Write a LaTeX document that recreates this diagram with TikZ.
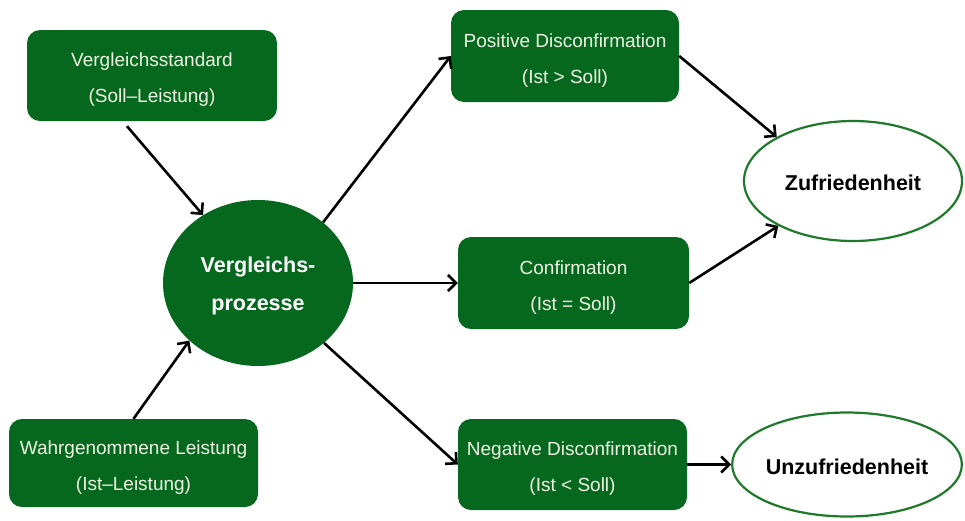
\documentclass[tikz,border=0pt]{standalone}
\usepackage{fontspec}
\setmainfont{Liberation Sans}
\usetikzlibrary{shapes.geometric,arrows.meta}
\definecolor{boxgreen}{RGB}{6,104,30}
\definecolor{rimgreen}{RGB}{30,122,42}
\definecolor{boxtext}{RGB}{240,244,226}
% invisible strut that lowers a node's text block a little
\newcommand\padtop[1]{\rule{0pt}{#1}}
\begin{document}
\begin{tikzpicture}[x=1pt,y=-1pt,
  greenbox/.style={fill=boxgreen, rounded corners=13pt, text=boxtext, align=center,
    inner sep=0pt, font=\fontsize{19}{36}\selectfont},
  procnode/.style={ellipse, fill=boxgreen, text=white, align=center, inner sep=0pt,
    font=\fontsize{21.5}{38}\selectfont\bfseries},
  outcome/.style={ellipse, draw=rimgreen, line width=2.2pt, fill=white, align=center,
    inner sep=0pt, font=\fontsize{21.5}{24}\selectfont\bfseries},
  flow/.style={draw=black, line width=2.6pt,
    -{Straight Barb[length=8pt,width=16pt]}}]
\useasboundingbox (0,0) rectangle (965,520);

% inputs
\node[greenbox, minimum width=250pt, minimum height=91pt] (std) at (152,75.5)
  {\padtop{22pt}Vergleichsstandard\\(Soll–Leistung)};
\node[greenbox, minimum width=249pt, minimum height=88pt] (wahr) at (133.5,463)
  {\padtop{22pt}Wahrgenommene Leistung\\(Ist–Leistung)};

% comparison process
\node[procnode, minimum width=190pt, minimum height=166pt] (proc) at (258,283)
  {\padtop{21pt}Vergleichs-\\prozesse};

% three outcomes of the comparison
\node[greenbox, minimum width=228pt, minimum height=92pt] (pos) at (565,56)
  {\padtop{22pt}Positive Disconfirmation\\(Ist > Soll)};
\node[greenbox, minimum width=231pt, minimum height=92pt] (conf) at (573.5,283)
  {\padtop{22pt}Confirmation\\(Ist = Soll)};
\node[greenbox, minimum width=229pt, minimum height=91pt] (neg) at (572.5,464.5)
  {\padtop{22pt}Negative Disconfirmation\\(Ist < Soll)};

% resulting states
\node[outcome, minimum width=218pt, minimum height=120pt] (zuf) at (853,181)
  {\padtop{20pt}Zufriedenheit};
\node[outcome, minimum width=225pt, minimum height=104pt] (unz) at (847,464.5)
  {\padtop{20pt}Unzufriedenheit};

% connectors
\draw[flow] ([xshift=-25pt,yshift=-5pt]std.south) -- (proc.129);
\draw[flow] (wahr.north) -- (proc.220);
\draw[flow] (proc.43) -- (pos.west);
\draw[flow] (proc.east) -- (conf.west);
\draw[flow] (proc) -- (neg.west);
\draw[flow] (pos.east) -- (zuf.150);
\draw[flow] (conf.east) -- (zuf.211);
\draw[flow] (neg.east) -- (unz.west);
\end{tikzpicture}
\end{document}
